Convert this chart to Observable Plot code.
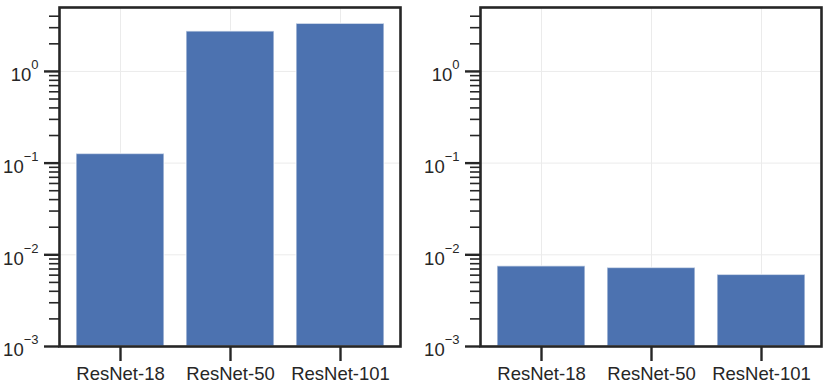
<!DOCTYPE html>
<html>
<head>
<meta charset="utf-8">
<script src="https://cdn.jsdelivr.net/npm/d3@7"></script>
<script src="https://cdn.jsdelivr.net/npm/@observablehq/plot@0.6"></script>
<style>
  html, body { margin: 0; padding: 0; background: #fff; }
  #wrap { display: flex; width: 831px; height: 387px; }
</style>
</head>
<body>
<div id="wrap"></div>
<script>
// ---- data ----
const models = ["ResNet-18", "ResNet-50", "ResNet-101"];
const leftValues = [0.126, 2.73, 3.31];
const rightValues = [0.0075, 0.0072, 0.00605];
const majorTicks = [1e-3, 1e-2, 1e-1, 1];
const majorTickLabels = ["10^−3", "10^−2", "10^−1", "10^0"];
const yMin = 1e-3;
const yMax = 4.98;

const minorTicks = [];
for (let k = -3; k <= 0; k++) for (let m = 2; m <= 9; m++) {
  const v = m * Math.pow(10, k);
  if (v <= yMax) minorTicks.push(v);
}

const ink = "#262626";
const barColor = "#4C72B0";
const gridColor = "#ebebeb";
const font = "'Liberation Sans', Arial, sans-serif";

function panel(values, width, marginLeft, marginRight) {
  const data = models.map((m, i) => ({model: m, value: values[i]}));
  const svg = Plot.plot({
    width, height: 387,
    marginTop: 7, marginBottom: 41, marginLeft, marginRight,
    style: {fontFamily: font, fontSize: "18.5px", color: ink, background: "#fff"},
    x: {domain: models, paddingInner: 0.2, paddingOuter: 0.14, label: null, axis: null},
    y: {type: "log", domain: [yMin, yMax], label: null, axis: null},
    marks: [
      Plot.gridY(majorTicks, {stroke: gridColor, strokeOpacity: 1, strokeWidth: 1}),
      Plot.gridX(models, {stroke: gridColor, strokeOpacity: 1, strokeWidth: 1}),
      Plot.barY(data, {x: "model", y1: () => yMin, y2: "value", fill: barColor, stroke: "#fff", strokeWidth: 1.5, strokeOpacity: 0.6}),
      Plot.axisY(minorTicks, {tickSize: 10, tickFormat: () => "", stroke: ink, strokeWidth: 1.6}),
      Plot.axisY(majorTicks, {tickSize: 15, tickFormat: () => "", stroke: ink, strokeWidth: 2.4}),
      Plot.axisY(majorTicks, {tickSize: 0, tickPadding: 21, dy: 4,
        fontSize: 18.5, fontFamily: font,
        tickFormat: (d) => majorTickLabels[majorTicks.indexOf(d)], fill: ink}),
      Plot.axisX(models, {tickSize: 15, tickPadding: 5, stroke: ink, strokeWidth: 2.4, fill: ink,
        fontSize: 18.5, fontFamily: font}),
      Plot.frame({stroke: ink, strokeWidth: 2.6})
    ]
  });
  // render superscripts
  svg.querySelectorAll('g[aria-label="y-axis tick label"] text').forEach(t => {
    const s = t.textContent;
    if (!s.includes("^")) return;
    const [base, exp] = s.split("^");
    while (t.firstChild) t.removeChild(t.firstChild);
    const ns = "http://www.w3.org/2000/svg";
    const b = document.createElementNS(ns, "tspan");
    b.textContent = base;
    const e = document.createElementNS(ns, "tspan");
    e.textContent = exp;
    e.setAttribute("font-size", "13px");
    e.setAttribute("dy", "-12");
    t.appendChild(b); t.appendChild(e);
  });
  return svg;
}

const wrap = document.getElementById("wrap");
wrap.appendChild(panel(leftValues, 415, 59, 15));
wrap.appendChild(panel(rightValues, 416, 65, 10));
</script>
</body>
</html>
